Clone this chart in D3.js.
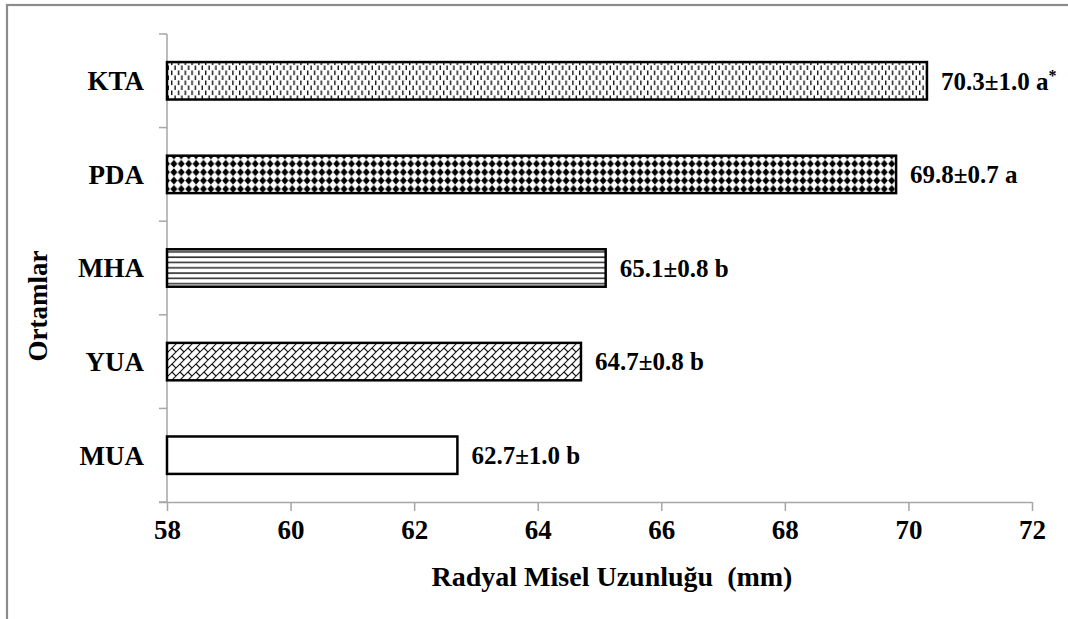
<!DOCTYPE html>
<html>
<head>
<meta charset="utf-8">
<script src="https://cdn.jsdelivr.net/npm/d3@7"></script>
<style>
  html, body { margin: 0; padding: 0; background: #fff; }
  svg { display: block; }
  svg text { font-family: 'Liberation Serif', 'DejaVu Serif', serif !important; font-weight: bold !important; fill: #000; }
</style>
</head>
<body>
<svg id="chart" width="1068" height="619" font-family="Liberation Serif"></svg>
<script>
// ---- data ----
const categories = ["KTA", "PDA", "MHA", "YUA", "MUA"];
const means = [70.3, 69.8, 65.1, 64.7, 62.7];
const errors = [1.0, 0.7, 0.8, 0.8, 1.0];
const letters = ["a", "a", "b", "b", "b"];
const notes = ["*", "", "", "", ""];
const patterns = ["dashVert", "solidDiamond", "horizLines", "diagBrick", "none"];
const xTicks = [58, 60, 62, 64, 66, 68, 70, 72];
const xDomain = [58, 72];
const xTitle = "Radyal Misel Uzunluğu  (mm)";
const yTitle = "Ortamlar";

// ---- layout ----
const FONT = "Liberation Serif";
const svg = d3.select("#chart");
const plot = { left: 167, right: 1032, top: 34, bottom: 502 };
const x = d3.scaleLinear().domain(xDomain).range([plot.left, plot.right]);
const y = d3.scaleBand().domain(categories).range([plot.top, plot.bottom]).paddingInner(0.6).paddingOuter(0.3);
const axisColor = "#a6a6a6";

// outer frame
svg.append("rect").attr("x", 7).attr("y", 5).attr("width", 1100).attr("height", 700)
  .attr("fill", "none").attr("stroke", "#8c8c8c").attr("stroke-width", 2.2);

// ---- patterns ----
const defs = svg.append("defs");
{
  const p = defs.append("pattern").attr("id", "dashVert").attr("patternUnits", "userSpaceOnUse")
    .attr("width", 6.8).attr("height", 10);
  p.append("rect").attr("width", 6.8).attr("height", 10).attr("fill", "#fff");
  p.append("rect").attr("x", 1).attr("y", 0.5).attr("width", 1.4).attr("height", 4.6).attr("fill", "#111");
  p.append("rect").attr("x", 4.4).attr("y", 5.5).attr("width", 1.4).attr("height", 4.6).attr("fill", "#111");
}
{
  const p = defs.append("pattern").attr("id", "solidDiamond").attr("patternUnits", "userSpaceOnUse")
    .attr("width", 7.4).attr("height", 8.4);
  p.append("rect").attr("width", 7.4).attr("height", 8.4).attr("fill", "#fff");
  p.append("path").attr("d", "M3.7,0.2 L7.2,4.2 L3.7,8.2 L0.2,4.2 Z").attr("fill", "#000");
}
{
  const p = defs.append("pattern").attr("id", "horizLines").attr("patternUnits", "userSpaceOnUse")
    .attr("width", 8).attr("height", 5.3);
  p.append("rect").attr("width", 8).attr("height", 5.3).attr("fill", "#fff");
  p.append("rect").attr("x", 0).attr("y", 2).attr("width", 8).attr("height", 1.6).attr("fill", "#333");
}
{
  const p = defs.append("pattern").attr("id", "diagBrick").attr("patternUnits", "userSpaceOnUse")
    .attr("width", 16).attr("height", 16);
  p.append("rect").attr("width", 16).attr("height", 16).attr("fill", "#fff");
  p.append("path")
    .attr("d", "M-1,1 L1,-1 M-1,9 L9,-1 M-1,17 L17,-1 M7,17 L17,7 M15,17 L17,15 " +
               "M4,4 L8,8 M12,12 L16,16 M12,4 L16,8 M4,12 L8,16 M-4,12 L0,16 M12,-4 L16,0 M-4,4 L0,8 M4,-4 L8,0")
    .attr("stroke", "#111").attr("stroke-width", 1.1).attr("fill", "none");
}

// ---- axes ----
const gx = svg.append("g").attr("transform", `translate(0,${plot.bottom})`)
  .call(d3.axisBottom(x).tickValues(xTicks).tickSize(9).tickPadding(9).tickFormat(d3.format("d")));
gx.attr("font-family", FONT).attr("font-size", 27).attr("font-weight", "bold");
gx.select(".domain").attr("d", `M${plot.left - 8},0.5H${plot.right}`);
gx.selectAll(".domain, line").attr("stroke", axisColor).attr("stroke-width", 1.5);
gx.selectAll("text").attr("dy", "0.71em")
  .style("font-family", "'Liberation Serif', serif").style("font-size", "27px").style("font-weight", "700");

svg.append("line").attr("x1", plot.left).attr("x2", plot.left).attr("y1", plot.top).attr("y2", plot.bottom)
  .attr("stroke", axisColor).attr("stroke-width", 1.5);
const boundaries = d3.range(categories.length + 1).map(i => plot.top + i * (plot.bottom - plot.top) / categories.length);
svg.selectAll(".ytick").data(boundaries).join("line").attr("class", "ytick")
  .attr("x1", plot.left - 8).attr("x2", plot.left).attr("y1", d => d).attr("y2", d => d)
  .attr("stroke", axisColor).attr("stroke-width", 1.5);

svg.selectAll(".cat").data(categories).join("text").attr("class", "cat")
  .attr("x", 144).attr("y", d => y(d) + y.bandwidth() / 2).attr("dy", "0.35em")
  .attr("text-anchor", "end").attr("font-family", FONT).attr("font-size", 27).text(d => d);

// ---- bars ----
const rows = categories.map((c, i) => ({ c, m: means[i], e: errors[i], l: letters[i], n: notes[i], p: patterns[i] }));
svg.selectAll(".bar").data(rows).join("rect").attr("class", "bar")
  .attr("x", x(xDomain[0])).attr("y", d => y(d.c))
  .attr("width", d => x(d.m) - x(xDomain[0])).attr("height", y.bandwidth())
  .attr("fill", d => d.p === "none" ? "#fff" : `url(#${d.p})`)
  .attr("stroke", "#000").attr("stroke-width", 2.5);

const lab = svg.selectAll(".val").data(rows).join("text").attr("class", "val")
  .attr("x", d => x(d.m) + 14).attr("y", d => y(d.c) + y.bandwidth() / 2).attr("dy", "0.35em")
  .attr("font-family", FONT).attr("font-size", 25);
lab.append("tspan").text(d => `${d.m.toFixed(1)}±${d.e.toFixed(1)} ${d.l}`);
lab.filter(d => d.n).append("tspan").attr("dy", "-0.55em").attr("font-size", 16).text(d => d.n);

// ---- titles ----
svg.append("text").attr("x", 612).attr("y", 586)
  .attr("text-anchor", "middle").attr("font-family", FONT).attr("font-size", 28)
  .style("white-space", "pre").text(xTitle);
svg.append("text").attr("transform", `translate(47,306) rotate(-90)`)
  .attr("text-anchor", "middle").attr("font-family", FONT).attr("font-size", 27).text(yTitle);
</script>
</body>
</html>
